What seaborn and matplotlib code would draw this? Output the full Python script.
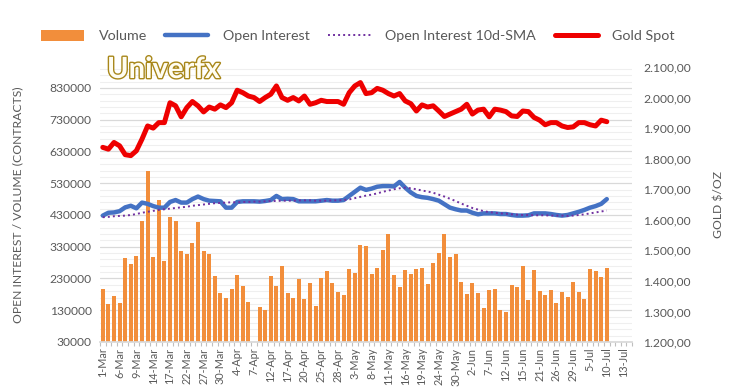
import matplotlib
matplotlib.use("Agg")
import matplotlib.pyplot as plt
import matplotlib.patheffects as pe
from matplotlib.lines import Line2D
from matplotlib.patches import Patch
from matplotlib.ticker import FixedLocator, FuncFormatter
import numpy as np
import pandas as pd
import seaborn as sns

# trading days shown on the category axis (US holidays skipped, Good Friday kept)
days = pd.bdate_range("2023-03-01", "2023-07-14")
days = days[~days.isin(pd.to_datetime(["2023-05-29", "2023-06-19", "2023-07-04"]))]
day_labels = [f"{d.day}-{d.strftime('%b')}" for d in days]

volume = [196000, 149000, 175000, 152000, 294000, 275000, 301000, 411000, 570000, 298000,
          477000, 285000, 425000, 411000, 318000, 307000, 341000, 407000, 318000, 307000,
          238000, 185000, 169000, 196000, 242000, 206000, 155000, np.nan, 141000, 131000,
          238000, 207000, 270000, 184000, 169000, 228000, 165000, 215000, 144000, 231000,
          254000, 215000, 187000, 178000, 260000, 246000, 336000, 332000, 243000, 264000,
          320000, 370000, 240000, 204000, 257000, 243000, 260000, 264000, 214000, 280000,
          310000, 370000, 298000, 307000, 218000, 181000, 215000, 185000, 138000, 195000,
          198000, 131000, 125000, 208000, 204000, 270000, 162000, 257000, 191000, 178000,
          194000, 154000, 187000, 172000, 218000, 187000, 164000, 260000, 254000, 235000,
          264000]

open_interest = [428000, 437000, 438000, 442000, 454000, 459000, 451000, 469000, 465000, 458000,
                 453000, 453000, 471000, 477000, 469000, 469000, 480000, 488000, 480000, 475000,
                 474000, 473000, 453000, 453000, 471000, 473000, 473000, 473000, 472000, 474000,
                 477000, 490000, 480000, 481000, 480000, 473000, 473000, 473000, 473000, 475000,
                 477000, 475000, 475000, 477000, 490000, 503000, 516000, 509000, 513000, 519000,
                 521000, 521000, 520000, 534000, 516000, 501000, 490000, 486000, 484000, 480000,
                 475000, 464000, 453000, 448000, 444000, 444000, 437000, 432000, 435000, 435000,
                 435000, 433000, 433000, 430000, 428000, 428000, 429000, 435000, 435000, 435000,
                 433000, 430000, 428000, 430000, 435000, 440000, 446000, 453000, 458000, 465000,
                 480000]

oi_sma = [423000, 424000, 426000, 427000, 428000, 430000, 433000, 437000, 440000, 443000,
          446000, 448000, 450000, 452000, 454000, 456000, 459000, 461000, 463000, 465000,
          467000, 468000, 469000, 470000, 470000, 471000, 471000, 472000, 472000, 473000,
          474000, 474000, 475000, 475000, 475000, 476000, 476000, 476000, 475000, 475000,
          475000, 476000, 476000, 477000, 479000, 483000, 487000, 491000, 494000, 498000,
          503000, 507000, 511000, 514000, 516000, 514000, 511000, 507000, 504000, 500000,
          494000, 488000, 481000, 474000, 466000, 459000, 452000, 447000, 442000, 439000,
          437000, 435000, 434000, 432000, 431000, 430000, 430000, 429000, 429000, 429000,
          428000, 428000, 428000, 427000, 428000, 430000, 432000, 435000, 438000, 441000,
          444000]

gold = [1837, 1831, 1853, 1842, 1813, 1810, 1826, 1864, 1907, 1900,
        1918, 1918, 1983, 1973, 1937, 1967, 1987, 1973, 1953, 1969,
        1962, 1976, 1967, 1983, 2024, 2016, 2005, 2000, 1987, 2000,
        2011, 2038, 2000, 1991, 2000, 1989, 2005, 1978, 1983, 1991,
        1987, 1987, 1987, 1978, 2016, 2038, 2049, 2013, 2016, 2030,
        2024, 2013, 2005, 2013, 1989, 1980, 1956, 1976, 1969, 1973,
        1956, 1938, 1946, 1954, 1962, 1978, 1946, 1959, 1962, 1937,
        1962, 1959, 1954, 1940, 1938, 1956, 1954, 1935, 1926, 1911,
        1918, 1918, 1907, 1902, 1904, 1918, 1918, 1911, 1907, 1926,
        1921]

df = pd.DataFrame({"day": day_labels[:len(volume)], "volume": volume,
                   "oi": open_interest, "sma": oi_sma, "gold": gold})
df["pos"] = np.arange(len(df))

sns.set_theme(style="white")
plt.rcParams["font.family"] = ["Lato", "DejaVu Sans"]

grey = "#595959"
fig = plt.figure(figsize=(7.33, 3.87), dpi=100)
ax = fig.add_axes([100 / 733, 45 / 387, 532 / 733, 275 / 387])

sns.barplot(data=df, x="day", y="volume", order=day_labels, color="#F28E3B",
            saturation=1, width=0.74, errorbar=None, linewidth=0, ax=ax, zorder=2)
sns.lineplot(data=df, x="pos", y="oi", color="#4472C4", linewidth=3.2, ax=ax, zorder=3)
sns.lineplot(data=df, x="pos", y="sma", color="#7030A0", linewidth=1.4,
             linestyle=(0, (1, 1.6)), ax=ax, zorder=4)

ax.set_ylim(30000, 896000)
ax.yaxis.set_major_locator(FixedLocator(np.arange(30000, 830001, 100000)))
ax.yaxis.set_minor_locator(FixedLocator(np.arange(50000, 896000, 20000)))
ax.yaxis.set_major_formatter(FuncFormatter(lambda v, p: f"{int(v)}"))
ax.grid(axis="y", which="major", color="#D9D9D9", linewidth=0.9)
ax.grid(axis="y", which="minor", color="#EFEFEF", linewidth=0.8)
ax.set_axisbelow(True)

ax.set_xlim(-0.5, len(day_labels) - 0.5)
ax.set_xticks(range(0, len(day_labels), 3))
ax.set_xticklabels(day_labels[::3], rotation=90, fontsize=7.8, color=grey)
ax.xaxis.set_minor_locator(FixedLocator(np.arange(-0.5, len(day_labels), 1)))
ax.tick_params(axis="x", which="major", length=0, pad=4)
ax.tick_params(axis="x", which="minor", length=3, color="#BFBFBF", width=0.8, bottom=True)
ax.tick_params(axis="y", which="both", length=0, labelsize=8.7, labelcolor=grey, pad=6)
ax.set_xlabel("")
ax.set_ylabel("OPEN INTEREST / VOLUME (CONTRACTS)", fontsize=8.7, color=grey, labelpad=19)
for s in ["top", "right", "left"]:
    ax.spines[s].set_visible(False)
ax.spines["bottom"].set_color("#D9D9D9")

ax2 = ax.twinx()
sns.lineplot(data=df, x="pos", y="gold", color="#EE0000", linewidth=3.6, ax=ax2, zorder=5)
ax2.set_ylim(1200, 2100)
ax2.set_yticks(np.arange(1200, 2101, 100))
ax2.yaxis.set_major_formatter(FuncFormatter(
    lambda v, p: f"{v:,.2f}".replace(",", "X").replace(".", ",").replace("X", ".")))
ax2.tick_params(axis="y", length=0, labelsize=8.7, labelcolor=grey, pad=8)
ax2.set_ylabel("GOLD $/OZ", fontsize=8.7, color=grey, labelpad=16)
for s in ax2.spines.values():
    s.set_visible(False)
ax2.set_xlim(-0.5, len(day_labels) - 0.5)

handles = [Patch(facecolor="#F28E3B", edgecolor="none"),
           Line2D([], [], color="#4472C4", linewidth=3.2),
           Line2D([], [], color="#7030A0", linewidth=1.4, linestyle=(0, (1, 1.6))),
           Line2D([], [], color="#EE0000", linewidth=3.6)]
fig.legend(handles, ["Volume", "Open Interest", "Open Interest 10d-SMA", "Gold Spot"],
           loc="center", bbox_to_anchor=(358 / 733, 1 - 36 / 387), ncol=4, frameon=False,
           fontsize=10.3, labelcolor=grey, handlelength=3.0, handleheight=0.9,
           columnspacing=1.3, handletextpad=1.0)

fig.text(107 / 733, 1 - 70 / 387, "Univerfx", fontsize=21, fontweight="bold",
         color="#FFFDF2", va="center", ha="left",
         path_effects=[pe.withStroke(linewidth=2.0, foreground="#A8871A")])

fig.savefig("out.png", dpi=100)
